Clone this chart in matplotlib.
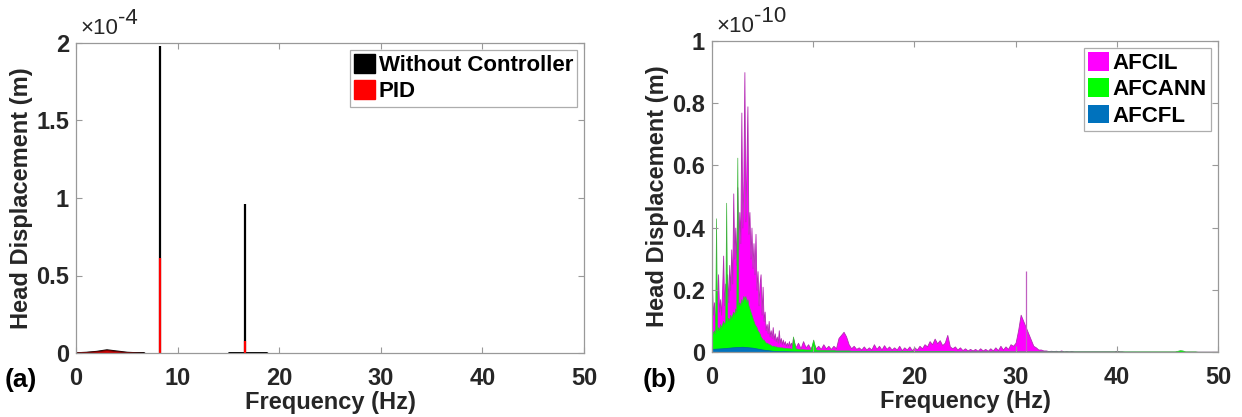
import numpy as np
import matplotlib
matplotlib.use("Agg")
import matplotlib.pyplot as plt
from matplotlib.ticker import FuncFormatter
from matplotlib.patches import Patch

plt.rcParams['font.family'] = ['Liberation Sans', 'DejaVu Sans']

# ---- panel (a): values in units of 1e-4 m ----
hump_f = [0, 1, 2, 3, 4, 5, 6, 6.7]
nc_hump = [0.003, 0.006, 0.012, 0.022, 0.014, 0.006, 0.003, 0.002]
pid_hump = [0.003, 0.006, 0.011, 0.020, 0.012, 0.005, 0.002, 0.0]
tail_f = [15.0, 16.0, 17.0, 18.0, 18.8]
nc_tail = [0.003, 0.003, 0.003, 0.003, 0.002]
spike_f = [8.3, 16.6]
nc_spike = [1.98, 0.96]
pid_spike = [0.61, 0.08]

# ---- panel (b): values in units of 1e-10 m ----
f_lo = np.round(np.arange(0, 8, 0.1), 2)        # 0.0 .. 7.9 Hz
f_hi = np.arange(8, 50.001, 0.25)               # 8 .. 50 Hz

afcil_lo = [0.21, 0.12, 0.16, 0.10, 0.14, 0.18, 0.25, 0.13, 0.17, 0.12,
            0.20, 0.31, 0.15, 0.22, 0.18, 0.25, 0.16, 0.28, 0.20, 0.33,
            0.22, 0.51, 0.30, 0.40, 0.28, 0.53, 0.33, 0.45, 0.35, 0.77,
            0.40, 0.55, 0.90, 0.42, 0.60, 0.79, 0.38, 0.45, 0.30, 0.40,
            0.27, 0.35, 0.25, 0.38, 0.20, 0.26, 0.15, 0.22, 0.25, 0.12,
            0.21, 0.10, 0.13, 0.07, 0.09, 0.06, 0.10, 0.05, 0.07, 0.045,
            0.08, 0.04, 0.06, 0.035, 0.05, 0.03, 0.07, 0.03, 0.045, 0.025,
            0.04, 0.025, 0.035, 0.02, 0.03, 0.02, 0.035, 0.02, 0.03, 0.02]
afcil_hi = [
    [0.045, 0.015, 0.03, 0.012, 0.035, 0.015, 0.025, 0.01],
    [0.03, 0.012, 0.02, 0.01, 0.025, 0.012, 0.02, 0.01],
    [0.02, 0.012, 0.045, 0.055, 0.065, 0.05, 0.025, 0.012],
    [0.02, 0.01, 0.015, 0.008, 0.018, 0.008, 0.015, 0.008],
    [0.025, 0.01, 0.02, 0.008, 0.022, 0.01, 0.018, 0.008],
    [0.015, 0.008, 0.02, 0.006, 0.015, 0.008, 0.018, 0.006],
    [0.015, 0.008, 0.02, 0.012, 0.025, 0.018, 0.035, 0.025],
    [0.043, 0.028, 0.038, 0.022, 0.03, 0.055, 0.018, 0.012],
    [0.018, 0.008, 0.015, 0.006, 0.012, 0.005, 0.01, 0.005],
    [0.01, 0.004, 0.012, 0.005, 0.01, 0.004, 0.012, 0.005],
    [0.015, 0.006, 0.02, 0.008, 0.018, 0.01, 0.025, 0.02],
    [0.03, 0.07, 0.12, 0.10, 0.08, 0.06, 0.04, 0.02],
    [0.015, 0.008, 0.008, 0.005, 0.005, 0.003, 0.004, 0.003],
    [0.004, 0.002, 0.005, 0.002, 0.003, 0.002, 0.003, 0.002],
    [0.002, 0.002, 0.002, 0.002, 0.002, 0.002, 0.002, 0.002],
    [0.002, 0.002, 0.002, 0.002, 0.002, 0.002, 0.002, 0.002],
    [0.004, 0.002, 0.002, 0.001, 0.001, 0.001, 0.001, 0.001],
    [0.001, 0.001, 0.001, 0.001, 0.001, 0.001, 0.001, 0.001],
    [0.001, 0.001, 0.001, 0.001, 0.001, 0.001, 0.001, 0.001],
    [0.001, 0.001, 0.001, 0.001, 0.001, 0.001, 0.001, 0.001],
    [0.001, 0.001, 0.001, 0.001, 0.001, 0.001, 0.001, 0.001],
    [0.001]]
afcil_line_f = [31.0]        # thin single-bin line above the 31 Hz block
afcil_line = [0.26]

afcann_lo = [0.07, 0.06, 0.07, 0.06, 0.43, 0.07, 0.08, 0.07, 0.09, 0.08,
             0.09, 0.10, 0.09, 0.10, 0.48, 0.10, 0.11, 0.10, 0.12, 0.11,
             0.12, 0.13, 0.12, 0.14, 0.13, 0.625, 0.15, 0.16, 0.15, 0.17,
             0.16, 0.18, 0.17, 0.18, 0.16, 0.17, 0.15, 0.14, 0.13, 0.12,
             0.11, 0.10, 0.09, 0.085, 0.08, 0.07, 0.065, 0.06, 0.05, 0.045,
             0.04, 0.04, 0.035, 0.03, 0.03, 0.028, 0.025, 0.025, 0.022, 0.02,
             0.02, 0.02, 0.018, 0.018, 0.017, 0.016, 0.016, 0.015, 0.015, 0.015,
             0.014, 0.014, 0.013, 0.013, 0.013, 0.012, 0.012, 0.012, 0.011, 0.011]
afcann_hi = [
    [0.05, 0.012, 0.01, 0.009, 0.009, 0.008, 0.008, 0.008],
    [0.04, 0.008, 0.007, 0.007, 0.007, 0.006, 0.006, 0.006],
    [0.006, 0.005, 0.005, 0.005, 0.005, 0.005, 0.005, 0.004],
    [0.004, 0.004, 0.004, 0.004, 0.004, 0.004, 0.004, 0.004],
    [0.004, 0.004, 0.004, 0.004, 0.004, 0.004, 0.004, 0.004],
    [0.004, 0.004, 0.004, 0.004, 0.004, 0.004, 0.004, 0.004],
    [0.003, 0.003, 0.003, 0.003, 0.003, 0.003, 0.003, 0.003],
    [0.003, 0.003, 0.003, 0.003, 0.003, 0.003, 0.003, 0.003],
    [0.002, 0.002, 0.002, 0.002, 0.002, 0.002, 0.002, 0.002],
    [0.002, 0.002, 0.002, 0.002, 0.002, 0.002, 0.002, 0.002],
    [0.002, 0.002, 0.002, 0.002, 0.002, 0.002, 0.002, 0.002],
    [0.002, 0.002, 0.002, 0.002, 0.002, 0.002, 0.002, 0.002],
    [0.002, 0.002, 0.002, 0.002, 0.002, 0.002, 0.002, 0.002],
    [0.002, 0.002, 0.002, 0.002, 0.002, 0.002, 0.002, 0.002],
    [0.002, 0.002, 0.002, 0.002, 0.002, 0.002, 0.002, 0.002],
    [0.002, 0.002, 0.002, 0.002, 0.002, 0.002, 0.002, 0.002],
    [0.002, 0.002, 0.002, 0.002, 0.002, 0.002, 0.002, 0.002],
    [0.002, 0.002, 0.002, 0.002, 0.002, 0.002, 0.002, 0.002],
    [0.002, 0.002, 0.002, 0.002, 0.002, 0.002, 0.002, 0.002],
    [0.004, 0.006, 0.005, 0.002, 0.002, 0.002, 0.002, 0.002],
    [0.001, 0.001, 0.001, 0.001, 0.001, 0.001, 0.001, 0.001],
    [0.001]]

afcfl_f = [0, 1, 2, 3, 4, 5, 6, 7, 8, 10, 20, 50]
afcfl = [0.010, 0.012, 0.015, 0.017, 0.014, 0.008, 0.004, 0.003, 0.002, 0.0015, 0.001, 0.0005]

f_b = np.concatenate([f_lo, f_hi])
afcil = np.concatenate([afcil_lo, np.concatenate(afcil_hi)])
afcann = np.concatenate([afcann_lo, np.concatenate(afcann_hi)])

TXT = '#262626'
GRID = '#999999'
FS = 17

fig = plt.figure(figsize=(12.42, 4.17), dpi=100)
W, H = 1242.0, 417.0
ax1 = fig.add_axes([76 / W, 1 - 353 / H, (584 - 76) / W, (353 - 43) / H])
ax2 = fig.add_axes([712 / W, 1 - 352 / H, (1218 - 712) / W, (352 - 41) / H])

# panel (a)
ax1.fill_between(hump_f, nc_hump, color='black', lw=1.2)
ax1.fill_between(tail_f, nc_tail, color='black', lw=1.2)
ax1.vlines(spike_f, 0, nc_spike, color='black', lw=1.6)
ax1.fill_between(hump_f, pid_hump, facecolor='#cc0000', edgecolor='#700000', lw=0.8)
ax1.vlines(spike_f, 0, pid_spike, color='red', lw=1.6)

# panel (b)
ax2.fill_between(f_b, afcil, facecolor='#ff00ff', edgecolor='#b030b0', lw=0.6)
ax2.vlines(afcil_line_f, 0, afcil_line, color='#c060c0', lw=0.9)
ax2.fill_between(f_b, afcann, facecolor='#00ff00', edgecolor='#40b040', lw=0.5)
ax2.fill_between(afcfl_f, afcfl, facecolor='#0072bd', edgecolor='#0060a0', lw=0.5)

fmt = FuncFormatter(lambda v, p: '%g' % round(v, 6))
for ax, ymax, yt in [(ax1, 2, [0, 0.5, 1, 1.5, 2]),
                     (ax2, 1, [0, 0.2, 0.4, 0.6, 0.8, 1])]:
    ax.set_xlim(0, 50)
    ax.set_ylim(0, ymax)
    ax.set_xticks([0, 10, 20, 30, 40, 50])
    ax.set_yticks(yt)
    ax.xaxis.set_major_formatter(fmt)
    ax.yaxis.set_major_formatter(fmt)
    ax.tick_params(direction='in', top=True, right=True, length=4,
                   width=0.8, color=GRID, labelsize=FS, labelcolor=TXT)
    ax.tick_params(axis='x', pad=10)
    ax.tick_params(axis='y', pad=5)
    for lab in ax.get_xticklabels() + ax.get_yticklabels():
        lab.set_fontweight('bold')
    for s in ax.spines.values():
        s.set_color(GRID)
        s.set_linewidth(0.9)
    ax.set_xlabel('Frequency (Hz)', fontsize=FS, fontweight='bold', color=TXT, labelpad=1)
    ax.set_ylabel('Head Displacement (m)', fontsize=FS, fontweight='bold', color=TXT, labelpad=2)

# MATLAB-style exponent labels above the y axes
for ax, ex in [(ax1, '-4'), (ax2, '-10')]:
    ax.annotate('\u00d710', xy=(0, 1), xycoords='axes fraction', xytext=(3, 3),
                textcoords='offset points', fontsize=16, color=TXT,
                ha='left', va='bottom')
    ax.annotate(ex, xy=(0, 1), xycoords='axes fraction', xytext=(30, 10),
                textcoords='offset points', fontsize=16, color=TXT,
                ha='left', va='bottom')

fig.text(5 / W, 1 - 380 / H, '(a)', fontsize=19, fontweight='bold', color='black',
         ha='left', va='center')
fig.text(643 / W, 1 - 380 / H, '(b)', fontsize=19, fontweight='bold', color='black',
         ha='left', va='center')

leg_kw = dict(loc='upper right', frameon=True, fancybox=False,
              handlelength=0.95, handleheight=0.9, handletextpad=0.15,
              labelspacing=0.2, borderpad=0.2, borderaxespad=0.3,
              prop={'weight': 'bold', 'size': 16})
h1 = [Patch(facecolor='black', edgecolor='black'), Patch(facecolor='red', edgecolor='red')]
lg1 = ax1.legend(h1, ['Without Controller', 'PID'], **leg_kw)
h2 = [Patch(facecolor='#ff00ff'), Patch(facecolor='#00ff00'), Patch(facecolor='#0072bd')]
lg2 = ax2.legend(h2, ['AFCIL', 'AFCANN', 'AFCFL'], **leg_kw)
for lg in (lg1, lg2):
    lg.get_frame().set_edgecolor(GRID)
    lg.get_frame().set_linewidth(0.9)

fig.savefig('out.png', dpi=100)
